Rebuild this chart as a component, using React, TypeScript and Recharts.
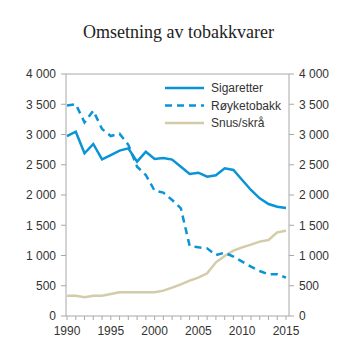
import React from 'react';
import { LineChart, Line, XAxis, YAxis, Legend, ReferenceLine } from 'recharts';

const years: number[] = [1990, 1991, 1992, 1993, 1994, 1995, 1996, 1997, 1998, 1999, 2000, 2001, 2002, 2003, 2004, 2005, 2006, 2007, 2008, 2009, 2010, 2011, 2012, 2013, 2014, 2015];
const sigaretter: number[] = [2975, 3046, 2689, 2843, 2590, 2661, 2733, 2771, 2551, 2716, 2595, 2611, 2585, 2468, 2347, 2369, 2303, 2325, 2441, 2413, 2248, 2083, 1945, 1851, 1807, 1785];
const royketobakk: number[] = [3480, 3500, 3200, 3394, 3091, 2975, 3014, 2830, 2468, 2331, 2072, 2039, 1917, 1780, 1160, 1135, 1118, 1008, 1047, 980, 898, 815, 744, 689, 689, 633];
const snus: number[] = [336, 336, 309, 336, 336, 364, 391, 391, 391, 391, 391, 419, 468, 523, 584, 633, 705, 887, 992, 1080, 1135, 1179, 1229, 1256, 1383, 1410];
const yTicks: number[] = [0, 500, 1000, 1500, 2000, 2500, 3000, 3500, 4000];
const xLabelYears: number[] = [1990, 1995, 2000, 2005, 2010, 2015];

const seriesNames = ['Sigaretter', 'Røyketobakk', 'Snus/skrå'];
const BLUE = '#0a93d6';
const BEIGE = '#d4cba8';
const AXIS = '#a8a8a8';
const TEXT = '#333333';
const FONT = '"Liberation Sans", Arial, sans-serif';

const data = years.map((y, i) => ({ year: y, sig: sigaretter[i], roy: royketobakk[i], snus: snus[i] }));

const fmt = (v: number) => {
  const s = String(v);
  if (s.length > 3) return s.slice(0, s.length - 3) + '\u00a0' + s.slice(s.length - 3);
  return s;
};

const XTick = (props: any) => {
  const { x, y, payload } = props;
  if (!xLabelYears.includes(payload.value)) return null;
  return (
    <text x={x} y={y} dy="0.71em" textAnchor="middle" fill={TEXT} fontSize={12} fontFamily={FONT}>
      {payload.value}
    </text>
  );
};

const renderLegend = () => {
  const rows = [
    { name: seriesNames[0], color: BLUE, dash: undefined as string | undefined },
    { name: seriesNames[1], color: BLUE, dash: '7 5' },
    { name: seriesNames[2], color: BEIGE, dash: undefined as string | undefined },
  ];
  return (
    <svg width={130} height={60} style={{ display: 'block' }}>
      {rows.map((r, i) => {
        const cy = 12 + i * 17.5;
        return (
          <g key={r.name}>
            <line x1={5} x2={44} y1={cy} y2={cy} stroke={r.color} strokeWidth={2.5} strokeDasharray={r.dash} />
            <text x={51} y={cy + 4.3} fill={TEXT} fontSize={12} fontFamily={FONT}>{r.name}</text>
          </g>
        );
      })}
    </svg>
  );
};

export default function App() {
  return (
    <div style={{ position: 'absolute', left: 0, top: 0, width: 353, height: 353, background: '#fff' }}>
      <LineChart width={353} height={353} data={data} margin={{ top: 74, right: 0, left: 0, bottom: 0 }}>
        <XAxis
          dataKey="year"
          type="number"
          domain={[1990, 2015]}
          ticks={years}
          interval={0}
          padding={{ left: 1, right: 3 }}
          height={37}
          tickSize={4}
          tickMargin={6}
          stroke={AXIS}
          tickLine={{ stroke: AXIS }}
          tick={<XTick />}
        />
        <YAxis
          yAxisId="left"
          domain={[0, 4000]}
          ticks={yTicks}
          interval={0}
          width={66}
          tickSize={5}
          tickMargin={5}
          stroke={AXIS}
          tickFormatter={fmt}
          tick={{ fill: TEXT, fontSize: 12, fontFamily: FONT }}
        />
        <YAxis
          yAxisId="right"
          orientation="right"
          dataKey="sig"
          domain={[0, 4000]}
          ticks={yTicks}
          interval={0}
          width={64}
          tickSize={5}
          tickMargin={5}
          stroke={AXIS}
          tickFormatter={fmt}
          tick={{ fill: TEXT, fontSize: 12, fontFamily: FONT }}
        />
        <ReferenceLine yAxisId="left" y={4000} stroke={AXIS} />
        <Legend
          layout="vertical"
          align="center"
          verticalAlign="middle"
          content={renderLegend}
          wrapperStyle={{ position: 'absolute', left: 160, top: 76, width: 130, height: 60 }}
        />
        <Line yAxisId="left" type="linear" dataKey="snus" name={seriesNames[2]} stroke={BEIGE} strokeWidth={2.5} dot={false} isAnimationActive={false} />
        <Line yAxisId="left" type="linear" dataKey="roy" name={seriesNames[1]} stroke={BLUE} strokeWidth={2.5} strokeDasharray="7 5" dot={false} isAnimationActive={false} />
        <Line yAxisId="left" type="linear" dataKey="sig" name={seriesNames[0]} stroke={BLUE} strokeWidth={2.5} dot={false} isAnimationActive={false} />
      </LineChart>
      <svg width={353} height={50} style={{ position: 'absolute', left: 0, top: 0, pointerEvents: 'none' }}>
        <text x={178.5} y={38} textAnchor="middle" fontSize={18} fill="#222" fontFamily='"Liberation Serif", "Times New Roman", serif'>
          Omsetning av tobakkvarer
        </text>
      </svg>
    </div>
  );
}
